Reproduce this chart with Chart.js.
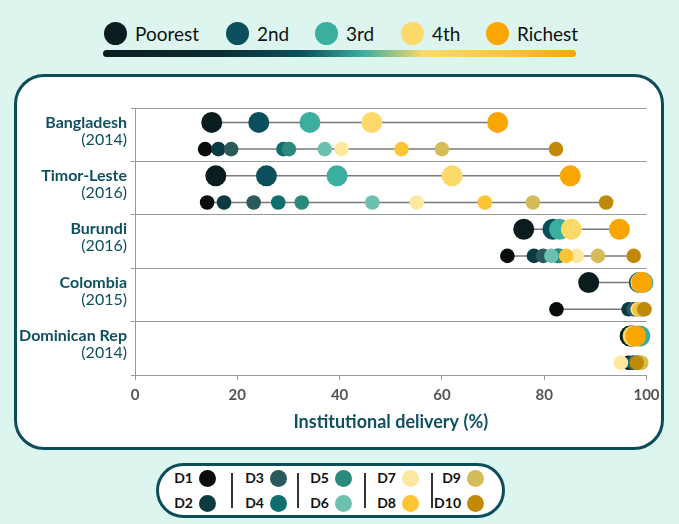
<!DOCTYPE html>
<html lang="en">
<head>
<meta charset="UTF-8" />
<title>Institutional delivery by wealth</title>
<script src="https://cdn.jsdelivr.net/npm/chart.js@4.4.0/dist/chart.umd.min.js"></script>
<style>
  body { margin: 0; background: #dcf6ef; font-family: Lato, sans-serif; }
  #page { position: relative; width: 679px; height: 524px; overflow: hidden; }
  .panel { position: absolute; left: 14px; top: 74px; width: 644px; height: 370px;
    border: 3px solid #0d4d5a; border-radius: 30px; background: #fff; }
  .pill { position: absolute; left: 156px; top: 463px; width: 343px; height: 49px;
    border: 3px solid #0d4d5a; border-radius: 28px; background: #fff; }
  .dot { position: absolute; border-radius: 50%; }
  .qlab { position: absolute; font-size: 19px; color: #111; line-height: 24px; }
  .dlab { position: absolute; font-size: 14px; font-weight: bold; color: #111; text-align: right; width: 30px; line-height: 18px; }
  .sep { position: absolute; width: 1.5px; background: #333; }
  .bar { position: absolute; left: 103px; top: 50px; width: 473px; height: 7px; border-radius: 4px;
    background: linear-gradient(90deg, #0b1d1e 0%, #0c2e33 25%, #0b4f5c 42%, #3aafa0 55%, #fdd96a 68%, #fcc43c 85%, #f9a602 100%); }
  #wrap { position: absolute; left: 0; top: 0; width: 679px; height: 524px; }
</style>
</head>
<body>
<div id="page">
  <div class="bar"></div>
  <div id="topLegend"></div>
  <div class="panel"></div>
  <div class="pill"></div>
  <div id="bottomLegend"></div>
  <div id="wrap"><canvas id="chart"></canvas></div>
</div>

<script>
  // data
  const countries = ["Bangladesh", "Timor-Leste", "Burundi", "Colombia", "Dominican Rep"];
  const years = ["(2014)", "(2016)", "(2016)", "(2015)", "(2014)"];

  const quintileLabels = ["Poorest", "2nd", "3rd", "4th", "Richest"];
  const poorest = [15.0, 15.8, 76.0, 88.7, 96.8];
  const second = [24.2, 25.7, 81.7, 98.6, 97.3];
  const third = [34.2, 39.5, 83.0, 99.3, 98.7];
  const fourth = [46.3, 62.0, 85.3, 98.9, 97.4];
  const richest = [70.9, 85.1, 94.7, 99.1, 97.9];

  const decileLabels = ["D1", "D2", "D3", "D4", "D5", "D6", "D7", "D8", "D9", "D10"];
  const d1 = [13.7, 14.1, 72.8, 82.4, 96.5];
  const d2 = [16.3, 17.4, 78.0, 96.5, 97.2];
  const d3 = [18.8, 23.2, 79.8, 97.5, 97.5];
  const d4 = [29.0, 28.0, 82.6, 98.2, 97.8];
  const d5 = [30.1, 32.6, 83.0, 98.8, 98.3];
  const d6 = [37.1, 46.4, 81.4, 99.2, 98.7];
  const d7 = [40.4, 55.1, 86.4, 98.3, 95.0];
  const d8 = [52.1, 68.4, 84.3, 98.6, 99.0];
  const d9 = [60.0, 77.8, 90.5, 99.3, 98.9];
  const d10 = [82.3, 92.1, 97.5, 99.6, 98.1];

  const xTicks = [0, 20, 40, 60, 80, 100];

  // styles
  const quintileColors = ["#0a1c1d", "#0b4f5c", "#3aafa0", "#fdd96a", "#f9a602"];
  const decileColors = ["#080c0c", "#0b3a40", "#2a5a5c", "#0f6e6e", "#2a8a7c",
    "#6cc0b0", "#fde8a0", "#fdc433", "#d4bc5a", "#c08a08"];
  const teal = "#0f5060";
  const QROW = 0.27, DROW = 0.77;

  const quintiles = [poorest, second, third, fourth, richest];
  const deciles = [d1, d2, d3, d4, d5, d6, d7, d8, d9, d10];

  // top legend
  const topPos = [115, 237, 326, 412, 497];
  const tl = document.getElementById("topLegend");
  quintileLabels.forEach((q, i) => {
    tl.insertAdjacentHTML("beforeend",
      `<div class="dot" style="left:${topPos[i] - 11.5}px;top:22px;width:23px;height:23px;background:${quintileColors[i]}"></div>` +
      `<div class="qlab" style="left:${topPos[i] + 20}px;top:22px">${q}</div>`);
  });

  // bottom legend
  const colX = [207, 278, 343, 410, 475];
  const sepX = [231, 297, 364, 431];
  const bl = document.getElementById("bottomLegend");
  decileLabels.forEach((d, i) => {
    const col = Math.floor(i / 2), row = i % 2;
    const cy = row === 0 ? 478 : 503;
    bl.insertAdjacentHTML("beforeend",
      `<div class="dot" style="left:${colX[col] - 8.5}px;top:${cy - 8.5}px;width:17px;height:17px;background:${decileColors[i]}"></div>` +
      `<div class="dlab" style="left:${colX[col] - 44}px;top:${cy - 9}px">${d}</div>`);
  });
  sepX.forEach((x) => {
    bl.insertAdjacentHTML("beforeend", `<div class="sep" style="left:${x}px;top:473px;height:35px"></div>`);
  });

  // datasets
  const datasets = [];
  countries.forEach((c, i) => {
    const qv = quintiles.map((s) => s[i]);
    const dv = deciles.map((s) => s[i]);
    datasets.push({
      data: [{ x: Math.min(...qv), y: i + QROW }, { x: Math.max(...qv), y: i + QROW }],
      showLine: true, borderColor: "#7a7a7a", borderWidth: 1.5, pointRadius: 0, order: 1000, clip: false,
    });
    datasets.push({
      data: [{ x: Math.min(...dv), y: i + DROW }, { x: Math.max(...dv), y: i + DROW }],
      showLine: true, borderColor: "#7a7a7a", borderWidth: 1.5, pointRadius: 0, order: 1000, clip: false,
    });
  });
  quintiles.forEach((s, q) => {
    datasets.push({
      label: quintileLabels[q],
      data: s.map((v, i) => ({ x: v, y: i + QROW })),
      backgroundColor: quintileColors[q], borderWidth: 0, pointRadius: 10.5, order: 500 - q, clip: false,
    });
  });
  deciles.forEach((s, d) => {
    datasets.push({
      label: decileLabels[d],
      data: s.map((v, i) => ({ x: v, y: i + DROW })),
      backgroundColor: decileColors[d], borderWidth: 0, pointRadius: 7.3, order: 400 - d, clip: false,
    });
  });

  const rowLabels = {
    id: "rowLabels",
    afterDraw(chart) {
      const { ctx, scales: { y } } = chart;
      ctx.save();
      ctx.textAlign = "right";
      ctx.textBaseline = "middle";
      ctx.fillStyle = teal;
      countries.forEach((c, i) => {
        const py = y.getPixelForValue(i + QROW);
        ctx.font = "bold 16px Lato";
        ctx.fillText(c, 127, py);
        ctx.font = "16px Lato";
        ctx.fillText(years[i], 127, py + 17);
      });
      ctx.restore();
    },
  };

  new Chart(document.getElementById("chart"), {
    type: "scatter",
    data: { datasets },
    options: {
      responsive: true,
      maintainAspectRatio: false,
      animation: false,
      layout: { padding: { left: 130, right: 32.5, top: 108, bottom: 89 } },
      plugins: { legend: { display: false }, tooltip: { enabled: false } },
      scales: {
        x: {
          type: "linear", min: 0, max: 100,
          afterBuildTicks: (s) => { s.ticks = xTicks.map((v) => ({ value: v })); },
          afterFit: (s) => { s.height = 60; },
          grid: { drawOnChartArea: false, drawTicks: true, tickLength: 5, color: "#999" },
          border: { color: "#999", width: 1 },
          ticks: { padding: 6, color: "#555", font: { family: "Lato", size: 15, weight: "bold" } },
          title: { display: true, text: "Institutional delivery (%)", color: teal, padding: { top: 0, bottom: 2 },
            font: { family: "Lato", size: 18, weight: "bold" } },
        },
        y: {
          type: "linear", min: 0, max: 5, reverse: true,
          afterBuildTicks: (s) => { s.ticks = countries.map((c, i) => ({ value: i })).concat([{ value: 5 }]); },
          afterFit: (s) => { s.width = 5; },
          grid: { color: "#999", lineWidth: 1, drawTicks: true, tickLength: 4 },
          border: { color: "#999", width: 1 },
          ticks: { display: false },
        },
      },
    },
    plugins: [rowLabels],
  });
</script>
</body>
</html>
